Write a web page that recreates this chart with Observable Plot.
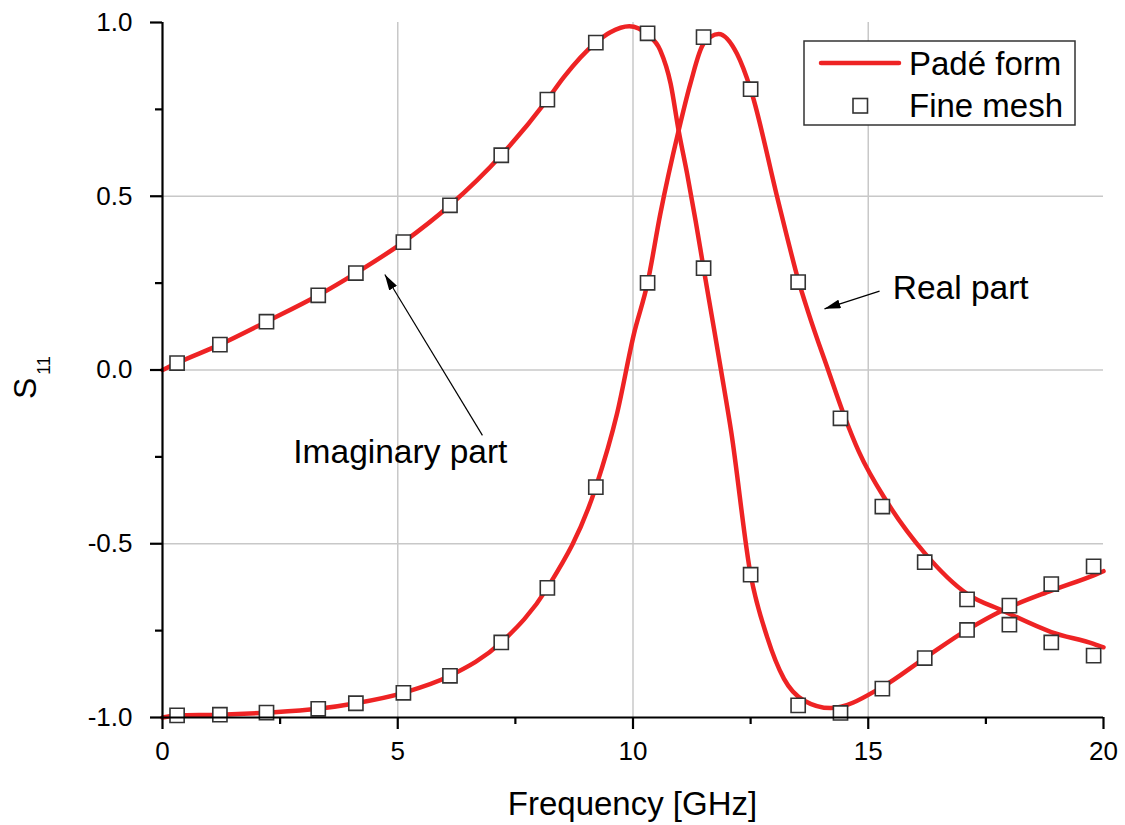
<!DOCTYPE html>
<html>
<head>
<meta charset="utf-8">
<script src="https://cdn.jsdelivr.net/npm/d3@7"></script>
<script src="https://cdn.jsdelivr.net/npm/@observablehq/plot@0.6"></script>
<style>
  html, body { margin: 0; padding: 0; background: #fff; }
  #chart { width: 1125px; height: 825px; }
</style>
</head>
<body>
<div id="chart"></div>
<script>
// ---- Data ----
// Fine-mesh sample frequencies (GHz)
const meshFreq = [0.31, 1.22, 2.21, 3.31, 4.11, 5.12, 6.11, 7.20, 8.18, 9.21, 10.31, 11.50, 12.50, 13.51, 14.41, 15.30, 16.20, 17.10, 18.00, 18.89, 19.79];
const meshImag = [0.020, 0.073, 0.139, 0.215, 0.279, 0.368, 0.474, 0.618, 0.778, 0.942, 0.969, 0.293, -0.589, -0.965, -0.987, -0.917, -0.829, -0.748, -0.678, -0.616, -0.565];
const meshReal = [-0.994, -0.992, -0.986, -0.975, -0.959, -0.929, -0.880, -0.784, -0.627, -0.337, 0.251, 0.958, 0.808, 0.253, -0.139, -0.393, -0.553, -0.660, -0.733, -0.784, -0.822];

// Padé-form curves
const padeImagFreq = [0, 0.31, 1.22, 2.21, 3.31, 4.11, 5.12, 6.11, 7.20, 8.18, 8.53, 9.21, 9.52, 9.92, 10.31, 10.58, 10.80, 10.97, 11.15, 11.33, 11.50, 11.72, 11.87, 12.09, 12.50, 12.85, 13.21, 13.63, 14.20, 15.30, 16.20, 17.10, 17.85, 18.89, 19.79, 20];
const padeImag     = [0, 0.020, 0.073, 0.139, 0.215, 0.279, 0.368, 0.474, 0.618, 0.778, 0.843, 0.942, 0.972, 0.989, 0.965, 0.920, 0.824, 0.689, 0.565, 0.430, 0.293, 0.120, 0.0, -0.180, -0.589, -0.768, -0.889, -0.951, -0.973, -0.912, -0.829, -0.748, -0.692, -0.635, -0.591, -0.579];
const padeRealFreq = [0, 0.31, 1.22, 2.21, 3.31, 4.11, 5.12, 6.11, 7.20, 8.18, 9.21, 9.66, 10.02, 10.31, 10.58, 10.97, 11.22, 11.50, 11.82, 12.21, 12.50, 13.06, 13.28, 13.51, 13.72, 14.16, 14.48, 14.80, 15.40, 16.20, 17.10, 17.85, 18.89, 19.79, 20];
const padeReal     = [-1.0, -0.994, -0.992, -0.986, -0.975, -0.959, -0.929, -0.880, -0.784, -0.627, -0.337, -0.126, 0.104, 0.251, 0.449, 0.689, 0.824, 0.939, 0.967, 0.910, 0.808, 0.500, 0.380, 0.260, 0.168, -0.005, -0.128, -0.235, -0.380, -0.527, -0.644, -0.692, -0.754, -0.788, -0.798];

// Axes
const xMajor = [0, 5, 10, 15, 20];
const xMinor = [2.5, 7.5, 12.5, 17.5];
const yMajor = [-1.0, -0.5, 0.0, 0.5, 1.0];
const yMinor = [-0.75, -0.25, 0.25, 0.75];
const xGrid = [5, 10, 15];
const yGrid = [-0.5, 0, 0.5];

// Annotations (data coordinates)
const annoLabels = ["Real part", "Imaginary part"];
const annoTextX = [15.52, 2.78];
const annoTextY = [0.236, -0.236];
const arrowX1 = [15.24, 6.80];
const arrowY1 = [0.227, -0.188];
const arrowX2 = [14.07, 4.725];
const arrowY2 = [0.176, 0.275];

const xTitle = "Frequency [GHz]";
const legendLine = "Padé form";
const legendMark = "Fine mesh";

// ---- Build tables ----
const meshPts = meshFreq.flatMap((f, i) => [{f, v: meshImag[i]}, {f, v: meshReal[i]}]);
const imagCurve = padeImagFreq.map((f, i) => ({f, v: padeImag[i]}));
const realCurve = padeRealFreq.map((f, i) => ({f, v: padeReal[i]}));
const annos = annoLabels.map((t, i) => ({t, x: annoTextX[i], y: annoTextY[i]}));
const arrows = arrowX1.map((x1, i) => ({x1, y1: arrowY1[i], x2: arrowX2[i], y2: arrowY2[i]}));

const RED = "#ee2324";
const FONT = "'Liberation Sans', Arial, Helvetica, sans-serif";

const chart = Plot.plot({
  width: 1125,
  height: 825,
  marginLeft: 162,
  marginRight: 22,
  marginTop: 22,
  marginBottom: 108,
  style: {fontFamily: FONT, fontSize: "26px", color: "#000", background: "#fff", overflow: "visible"},
  x: {domain: [0, 20]},
  y: {domain: [-1, 1]},
  marks: [
    Plot.ruleX(xGrid, {stroke: "#c8c8c8", strokeWidth: 1.5}),
    Plot.ruleY(yGrid, {stroke: "#c8c8c8", strokeWidth: 1.5}),
    Plot.line(imagCurve, {x: "f", y: "v", stroke: RED, strokeWidth: 4.5, curve: "monotone-x"}),
    Plot.line(realCurve, {x: "f", y: "v", stroke: RED, strokeWidth: 4.5, curve: "monotone-x"}),
    Plot.dot(meshPts, {x: "f", y: "v", symbol: "square", r: 8, fill: "#fff", stroke: "#333", strokeWidth: 1.6}),
    Plot.ruleX([0], {stroke: "#000", strokeWidth: 2.2}),
    Plot.ruleY([-1], {stroke: "#000", strokeWidth: 2.2}),
    Plot.axisX(xMajor, {tickSize: 12, tickPadding: 12, strokeWidth: 2.2, fontSize: 26, tickFormat: d => String(d), label: null}),
    Plot.axisX(xMinor, {tickSize: 7, strokeWidth: 2.2, tickFormat: () => "", label: null}),
    Plot.axisY(yMajor, {tickSize: 12, tickPadding: 18, strokeWidth: 2.2, fontSize: 26, tickFormat: d => d.toFixed(1), label: null}),
    Plot.axisY(yMinor, {tickSize: 7, strokeWidth: 2.2, tickFormat: () => "", label: null}),
    Plot.link(arrows, {x1: "x1", y1: "y1", x2: "x2", y2: "y2", stroke: "#000", strokeWidth: 1.2}),
    Plot.text(annos, {x: "x", y: "y", text: "t", textAnchor: "start", fontSize: 33.5, fill: "#000"})
  ]
});

document.getElementById("chart").appendChild(chart);

// ---- Decorations: arrowheads, titles, legend ----
const svg = d3.select(chart);
const defs = svg.insert("defs", ":first-child");
defs.append("marker")
  .attr("id", "ahead")
  .attr("viewBox", "0 0 16 9")
  .attr("refX", 16).attr("refY", 4.5)
  .attr("markerWidth", 16).attr("markerHeight", 9)
  .attr("markerUnits", "userSpaceOnUse")
  .attr("orient", "auto")
  .append("path").attr("d", "M0,0L16,4.5L0,9Z").attr("fill", "#000");
svg.selectAll('g[aria-label="link"] path').attr("marker-end", "url(#ahead)");

// x title
svg.append("text")
  .attr("x", 632.5).attr("y", 815)
  .attr("text-anchor", "middle")
  .attr("font-family", FONT).attr("font-size", 33).attr("fill", "#000")
  .text(xTitle);

// y title S11
const yt = svg.append("text")
  .attr("transform", "translate(36,399) rotate(-90)")
  .attr("text-anchor", "start")
  .attr("font-family", FONT).attr("fill", "#000");
yt.append("tspan").attr("font-size", 32).text("S");
yt.append("tspan").attr("font-size", 18).attr("dx", 3).attr("dy", 14).text("11");

// legend
const lg = svg.append("g").attr("text-anchor", "start");
lg.append("rect").attr("x", 804).attr("y", 41).attr("width", 271).attr("height", 84)
  .attr("fill", "#fff").attr("stroke", "#333").attr("stroke-width", 1.5);
lg.append("line").attr("x1", 821).attr("x2", 899).attr("y1", 63).attr("y2", 63)
  .attr("stroke", RED).attr("stroke-width", 4.5).attr("stroke-linecap", "round");
lg.append("rect").attr("x", 853).attr("y", 98.5).attr("width", 14.5).attr("height", 14.5)
  .attr("fill", "#fff").attr("stroke", "#333").attr("stroke-width", 1.6);
lg.append("text").attr("x", 909).attr("y", 75).attr("text-anchor", "start")
  .attr("font-family", FONT).attr("font-size", 33).attr("fill", "#000").text(legendLine);
lg.append("text").attr("x", 909).attr("y", 117).attr("text-anchor", "start")
  .attr("font-family", FONT).attr("font-size", 33).attr("fill", "#000").text(legendMark);
</script>
</body>
</html>
